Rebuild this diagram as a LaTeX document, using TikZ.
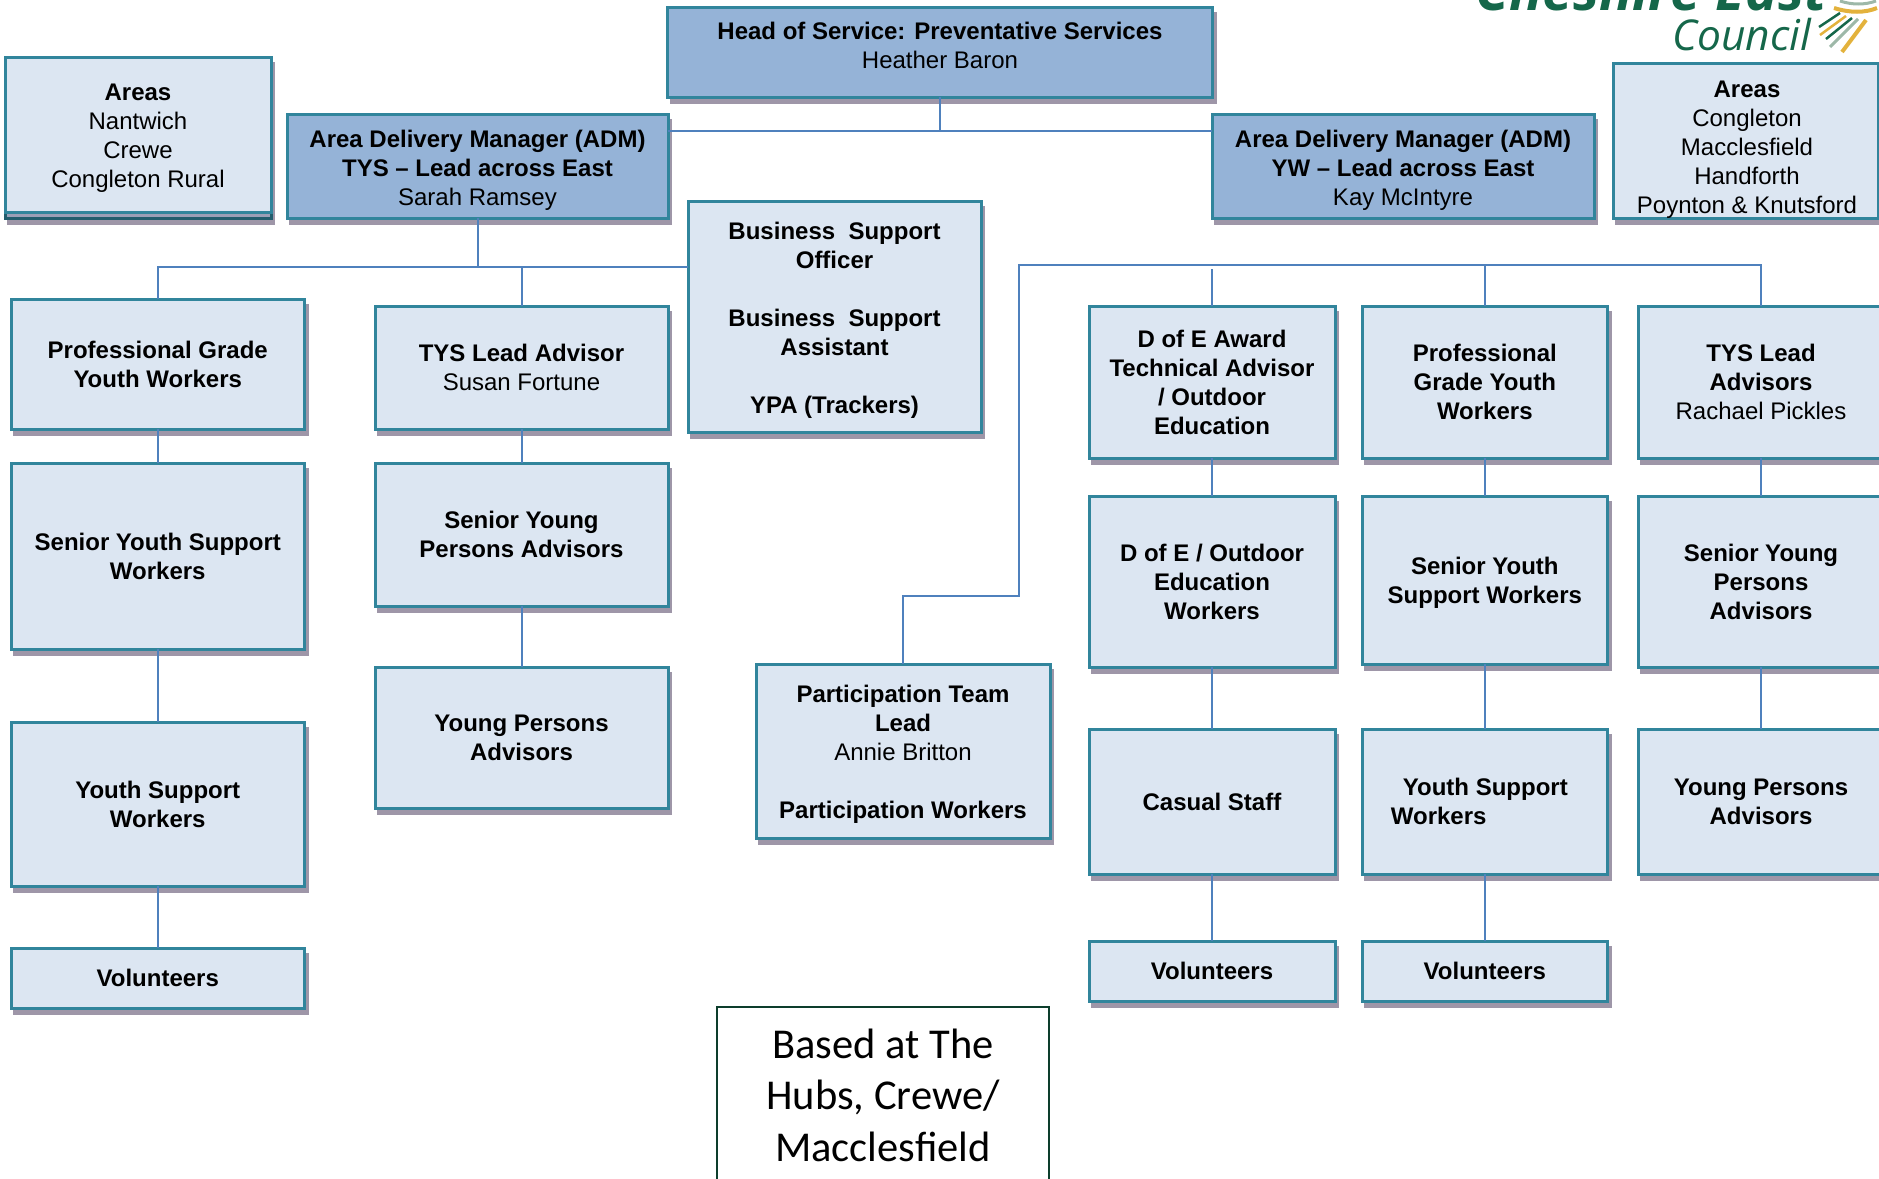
\documentclass[tikz,border=0pt]{standalone}
\usepackage{fontspec}
\setmainfont{Liberation Sans}
\newfontfamily\basedfont{Carlito}
\newfontfamily\logofont{Open Sans}
\usetikzlibrary{positioning}
\usetikzlibrary{shadows}
\definecolor{boxline}{HTML}{31859C}
\definecolor{lightfill}{HTML}{DCE6F2}
\definecolor{darkfill}{HTML}{95B3D7}
\definecolor{shadowcol}{HTML}{9E96A8}
\definecolor{linkcol}{HTML}{4F81BD}
\definecolor{logogreen}{HTML}{15674A}
\definecolor{logogold}{HTML}{E3B23C}
\definecolor{logogrey}{HTML}{9DB8A8}
\newcommand{\pushdown}[1]{\rule{0pt}{#1}}
\tikzset{
  orgbox/.style={draw=boxline,line width=3pt,inner sep=0pt,outer sep=0pt,align=center,
    font=\fontsize{24}{29}\selectfont,
    drop shadow={shadow xshift=3pt,shadow yshift=-6pt,fill=shadowcol,draw=shadowcol,line width=2pt,opacity=1}},
  lightbox/.style={orgbox,fill=lightfill},
  darkbox/.style={orgbox,fill=darkfill},
  boxtext/.style={inner sep=0pt,align=center,font=\fontsize{24}{29}\selectfont},
  link/.style={draw=linkcol,line width=2pt}
}
\begin{document}
\begin{tikzpicture}[x=1pt,y=-1pt]
\useasboundingbox (0,0) rectangle (1879,1178);
\node[logogreen,anchor=base east,inner sep=0pt,font=\logofont\bfseries\itshape\fontsize{55}{55}\selectfont] (logoname) at (1827,10) {Cheshire East};
\node[logogreen,anchor=base east,inner sep=0pt,font=\logofont\itshape\fontsize{42.5}{42.5}\selectfont] (logocouncil) at (1811,50) {Council};
\draw[logogold,line width=4pt] (1834,8) .. controls (1850,13) and (1865,13) .. (1877,8);
\draw[logogrey,line width=3pt] (1840,1) .. controls (1852,5) and (1865,5) .. (1876,1);
\draw[logogreen,line width=2.5pt] (1819,27) -- (1840,13);
\draw[logogold,line width=2.5pt] (1820,35) -- (1846,16);
\draw[logogreen,line width=2.5pt] (1826,39) -- (1852,18);
\draw[logogrey,line width=3pt] (1830,47) -- (1858,19);
\draw[logogold,line width=4pt] (1842,52) -- (1866,20);

\node[lightbox,fill=shadowcol!70!darkfill,draw=boxline!70!black,minimum width=266pt,minimum height=161pt] (areasback) at (138,137.5) {};
\node[draw=boxline,line width=3pt,fill=lightfill,inner sep=0pt,outer sep=0pt,align=center,font=\fontsize{24}{29}\selectfont,minimum width=266pt,minimum height=155pt] (areasl) at (138,134.5) {\pushdown{24.5pt}\textbf{Areas}\\Nantwich\\Crewe\\Congleton Rural};
\node[darkbox,minimum width=545pt,minimum height=90pt] (head) at (940,52) {};
\node[boxtext] (headtxt) at (940,45) {\textbf{Head of Service: Preventative Services}\\Heather Baron};
\node[darkbox,minimum width=381pt,minimum height=104pt] (adml) at (477.5,166) {\pushdown{25pt}\textbf{Area Delivery Manager (ADM)}\\\textbf{TYS -- Lead across East}\\Sarah Ramsey};
\node[darkbox,minimum width=382pt,minimum height=104pt] (admr) at (1403,166) {\pushdown{25pt}\textbf{Area Delivery Manager (ADM)}\\\textbf{YW -- Lead across East}\\Kay McIntyre};
\node[lightbox,minimum width=265pt,minimum height=155pt] (areasr) at (1745.5,140.5) {};
\node[boxtext] (areasrtxt) at (1747,149.5) {\textbf{Areas}\\Congleton\\Macclesfield\\Handforth\\Poynton \& Knutsford};

\node[lightbox,minimum width=293pt,minimum height=231pt] (bs) at (834.5,316.5) {\pushdown{24.5pt}\textbf{Business\ \ Support}\\\textbf{Officer}\\[29pt]\textbf{Business\ \ Support}\\\textbf{Assistant}\\[29pt]\textbf{YPA (Trackers)}};
\node[lightbox,minimum width=293.5pt,minimum height=130pt] (pgyw) at (157.75,364) {\textbf{Professional Grade}\\\textbf{Youth Workers}};
\node[lightbox,minimum width=293.5pt,minimum height=186pt] (sysw) at (157.75,556) {\textbf{Senior Youth Support}\\\textbf{Workers}};
\node[lightbox,minimum width=293.5pt,minimum height=164pt] (ysw) at (157.75,804) {\textbf{Youth Support}\\\textbf{Workers}};
\node[lightbox,minimum width=293.5pt,minimum height=60pt] (vol) at (157.75,978) {\textbf{Volunteers}};
\node[lightbox,minimum width=293pt,minimum height=123pt] (tysl) at (521.5,367.5) {\textbf{TYS Lead Advisor}\\Susan Fortune};
\node[lightbox,minimum width=293pt,minimum height=143pt] (sypa) at (521.5,534.5) {\textbf{Senior Young}\\\textbf{Persons Advisors}};
\node[lightbox,minimum width=293pt,minimum height=141pt] (ypa) at (521.5,737.5) {\textbf{Young Persons}\\\textbf{Advisors}};
\node[lightbox,minimum width=294pt,minimum height=174pt] (part) at (903,751) {\pushdown{23.5pt}\textbf{Participation Team}\\\textbf{Lead}\\Annie Britton\\[29pt]\textbf{Participation Workers}};

\node[lightbox,minimum width=246pt,minimum height=152pt] (dofe) at (1212,382) {\textbf{D of E Award}\\\textbf{Technical Advisor}\\\textbf{/ Outdoor}\\\textbf{Education}};
\node[lightbox,minimum width=246pt,minimum height=171pt] (doew) at (1212,581.5) {\textbf{D of E / Outdoor}\\\textbf{Education}\\\textbf{Workers}};
\node[lightbox,minimum width=246pt,minimum height=145pt] (cas) at (1212,801.5) {\textbf{Casual Staff}};
\node[lightbox,minimum width=246pt,minimum height=60pt] (volm) at (1212,971) {\textbf{Volunteers}};
\node[lightbox,minimum width=245.6pt,minimum height=152pt] (pgywr) at (1484.8,382) {\textbf{Professional}\\\textbf{Grade Youth}\\\textbf{Workers}};
\node[lightbox,minimum width=245.6pt,minimum height=168pt] (syswr) at (1484.8,580) {\pushdown{23pt}\textbf{Senior Youth}\\\textbf{Support Workers}};
\node[lightbox,align=left,minimum width=245.6pt,minimum height=145pt] (yswr) at (1484.8,801.5) {\hspace*{12pt}\textbf{Youth Support}\hspace*{11pt}\\\textbf{Workers}};
\node[lightbox,minimum width=245.6pt,minimum height=60pt] (volr) at (1484.8,971) {\textbf{Volunteers}};
\node[lightbox,minimum width=246pt,minimum height=152pt] (tysr) at (1761,382) {\textbf{TYS Lead}\\\textbf{Advisors}\\Rachael Pickles};
\node[lightbox,minimum width=246pt,minimum height=171pt] (sypar) at (1761,581.5) {\textbf{Senior Young}\\\textbf{Persons}\\\textbf{Advisors}};
\node[lightbox,minimum width=246pt,minimum height=145pt] (ypar) at (1761,801.5) {\textbf{Young Persons}\\\textbf{Advisors}};

\node[draw=logogreen!60!black,line width=1.5pt,inner sep=0pt,outer sep=0pt,minimum width=332pt,minimum height=193pt] (based) at (883,1103.5) {};
\node[inner sep=0pt,align=center,font=\basedfont\fontsize{42.5}{51.5}\selectfont] (basedtxt) at (883,1095) {Based at The\\Hubs, Crewe/\\Macclesfield};

\coordinate (topbus) at (940,131);
\coordinate (leftbus) at (477.5,267);
\coordinate (rightbus) at (1019,265);
\coordinate (partturn) at (1019,596);
\coordinate (dofegap) at (1212,269);
\draw[link] (head.south) -- (topbus);
\draw[link] (adml.east |- topbus) -- (admr.west |- topbus);
\draw[link] (adml.south) -- (leftbus);
\draw[link] (pgyw.north) -- (pgyw.north |- leftbus) -- (bs.west |- leftbus);
\draw[link] (tysl.north |- leftbus) -- (tysl.north);
\draw[link] (pgyw.south) -- (sysw.north);
\draw[link] (sysw.south) -- (ysw.north);
\draw[link] (ysw.south) -- (vol.north);
\draw[link] (tysl.south) -- (sypa.north);
\draw[link] (sypa.south) -- (ypa.north);
\draw[link] (part.north) |- (partturn) -- (rightbus) -| (tysr.north);
\draw[link] (dofegap) -- (dofe.north);
\draw[link] (pgywr.north |- rightbus) -- (pgywr.north);
\draw[link] (dofe.south) -- (doew.north);
\draw[link] (doew.south) -- (cas.north);
\draw[link] (cas.south) -- (volm.north);
\draw[link] (pgywr.south) -- (syswr.north);
\draw[link] (syswr.south) -- (yswr.north);
\draw[link] (yswr.south) -- (volr.north);
\draw[link] (tysr.south) -- (sypar.north);
\draw[link] (sypar.south) -- (ypar.north);
\end{tikzpicture}
\end{document}
